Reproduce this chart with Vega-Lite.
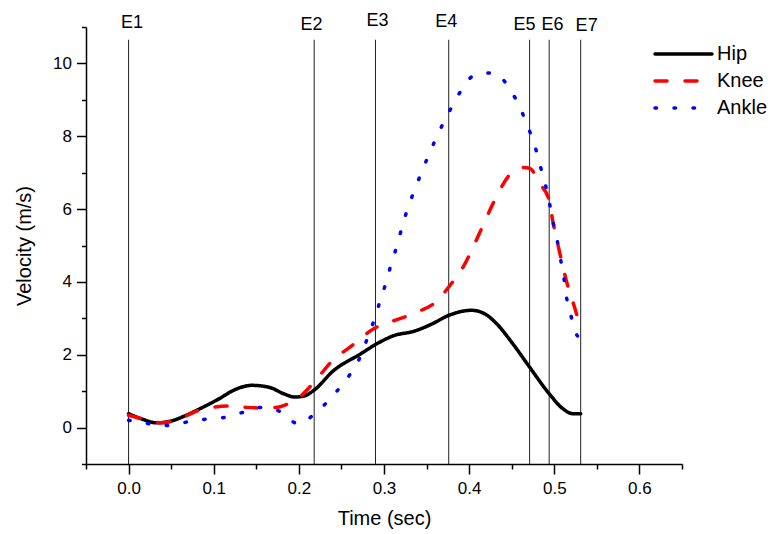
{
  "$schema": "https://vega.github.io/schema/vega-lite/v6.json",
  "width": 596,
  "height": 437,
  "autosize": {"type": "none"},
  "padding": {"left": 86, "top": 27, "right": 90, "bottom": 70},
  "background": "white",
  "config": {
    "view": {"stroke": null},
    "font": "Liberation Sans",
    "axis": {"grid": false, "domainColor": "black", "tickColor": "black", "labelColor": "black", "titleColor": "black", "domainWidth": 1.5, "tickWidth": 1.5, "labelFont": "Liberation Sans", "titleFont": "Liberation Sans", "titleFontWeight": "normal"}
  },
  "datasets": {
    "curves": [
      {"series": "Hip", "t": 0.000, "v": 0.38},
      {"series": "Hip", "t": 0.015, "v": 0.24},
      {"series": "Hip", "t": 0.033, "v": 0.13},
      {"series": "Hip", "t": 0.050, "v": 0.18},
      {"series": "Hip", "t": 0.067, "v": 0.33},
      {"series": "Hip", "t": 0.084, "v": 0.52},
      {"series": "Hip", "t": 0.107, "v": 0.80},
      {"series": "Hip", "t": 0.123, "v": 1.02},
      {"series": "Hip", "t": 0.145, "v": 1.16},
      {"series": "Hip", "t": 0.166, "v": 1.10},
      {"series": "Hip", "t": 0.182, "v": 0.93},
      {"series": "Hip", "t": 0.195, "v": 0.84},
      {"series": "Hip", "t": 0.205, "v": 0.86},
      {"series": "Hip", "t": 0.218, "v": 1.03},
      {"series": "Hip", "t": 0.240, "v": 1.55},
      {"series": "Hip", "t": 0.273, "v": 2.03},
      {"series": "Hip", "t": 0.290, "v": 2.28},
      {"series": "Hip", "t": 0.311, "v": 2.52},
      {"series": "Hip", "t": 0.336, "v": 2.65},
      {"series": "Hip", "t": 0.355, "v": 2.83},
      {"series": "Hip", "t": 0.376, "v": 3.08},
      {"series": "Hip", "t": 0.403, "v": 3.22},
      {"series": "Hip", "t": 0.420, "v": 3.10},
      {"series": "Hip", "t": 0.432, "v": 2.86},
      {"series": "Hip", "t": 0.451, "v": 2.31},
      {"series": "Hip", "t": 0.471, "v": 1.66},
      {"series": "Hip", "t": 0.494, "v": 0.93},
      {"series": "Hip", "t": 0.510, "v": 0.52},
      {"series": "Hip", "t": 0.522, "v": 0.38},
      {"series": "Hip", "t": 0.531, "v": 0.38},
      {"series": "Knee", "t": 0.000, "v": 0.34},
      {"series": "Knee", "t": 0.020, "v": 0.22},
      {"series": "Knee", "t": 0.039, "v": 0.13},
      {"series": "Knee", "t": 0.060, "v": 0.25},
      {"series": "Knee", "t": 0.082, "v": 0.47},
      {"series": "Knee", "t": 0.100, "v": 0.56},
      {"series": "Knee", "t": 0.117, "v": 0.59},
      {"series": "Knee", "t": 0.135, "v": 0.56},
      {"series": "Knee", "t": 0.154, "v": 0.54},
      {"series": "Knee", "t": 0.175, "v": 0.56},
      {"series": "Knee", "t": 0.186, "v": 0.64},
      {"series": "Knee", "t": 0.199, "v": 0.80},
      {"series": "Knee", "t": 0.218, "v": 1.25},
      {"series": "Knee", "t": 0.240, "v": 1.85},
      {"series": "Knee", "t": 0.260, "v": 2.21},
      {"series": "Knee", "t": 0.290, "v": 2.74},
      {"series": "Knee", "t": 0.310, "v": 2.92},
      {"series": "Knee", "t": 0.334, "v": 3.13},
      {"series": "Knee", "t": 0.365, "v": 3.54},
      {"series": "Knee", "t": 0.376, "v": 3.86},
      {"series": "Knee", "t": 0.393, "v": 4.41},
      {"series": "Knee", "t": 0.412, "v": 5.33},
      {"series": "Knee", "t": 0.428, "v": 6.15},
      {"series": "Knee", "t": 0.434, "v": 6.43},
      {"series": "Knee", "t": 0.449, "v": 6.98},
      {"series": "Knee", "t": 0.463, "v": 7.14},
      {"series": "Knee", "t": 0.471, "v": 7.12},
      {"series": "Knee", "t": 0.483, "v": 6.70},
      {"series": "Knee", "t": 0.494, "v": 6.24},
      {"series": "Knee", "t": 0.498, "v": 5.70},
      {"series": "Knee", "t": 0.504, "v": 5.05},
      {"series": "Knee", "t": 0.514, "v": 4.05},
      {"series": "Knee", "t": 0.526, "v": 3.13},
      {"series": "Knee", "t": 0.531, "v": 2.70},
      {"series": "Ankle", "t": 0.000, "v": 0.20},
      {"series": "Ankle", "t": 0.023, "v": 0.11},
      {"series": "Ankle", "t": 0.045, "v": 0.06},
      {"series": "Ankle", "t": 0.068, "v": 0.15},
      {"series": "Ankle", "t": 0.090, "v": 0.23},
      {"series": "Ankle", "t": 0.111, "v": 0.27},
      {"series": "Ankle", "t": 0.133, "v": 0.41},
      {"series": "Ankle", "t": 0.155, "v": 0.55},
      {"series": "Ankle", "t": 0.177, "v": 0.45},
      {"series": "Ankle", "t": 0.199, "v": 0.11},
      {"series": "Ankle", "t": 0.221, "v": 0.43},
      {"series": "Ankle", "t": 0.242, "v": 0.93},
      {"series": "Ankle", "t": 0.260, "v": 1.46},
      {"series": "Ankle", "t": 0.273, "v": 1.99},
      {"series": "Ankle", "t": 0.281, "v": 2.49},
      {"series": "Ankle", "t": 0.289, "v": 2.99},
      {"series": "Ankle", "t": 0.296, "v": 3.52},
      {"series": "Ankle", "t": 0.303, "v": 4.03},
      {"series": "Ankle", "t": 0.309, "v": 4.54},
      {"series": "Ankle", "t": 0.316, "v": 5.05},
      {"series": "Ankle", "t": 0.322, "v": 5.58},
      {"series": "Ankle", "t": 0.329, "v": 6.09},
      {"series": "Ankle", "t": 0.337, "v": 6.59},
      {"series": "Ankle", "t": 0.346, "v": 7.12},
      {"series": "Ankle", "t": 0.355, "v": 7.62},
      {"series": "Ankle", "t": 0.365, "v": 8.14},
      {"series": "Ankle", "t": 0.376, "v": 8.65},
      {"series": "Ankle", "t": 0.388, "v": 9.16},
      {"series": "Ankle", "t": 0.406, "v": 9.67},
      {"series": "Ankle", "t": 0.428, "v": 9.74},
      {"series": "Ankle", "t": 0.448, "v": 9.29},
      {"series": "Ankle", "t": 0.460, "v": 8.77},
      {"series": "Ankle", "t": 0.469, "v": 8.26},
      {"series": "Ankle", "t": 0.477, "v": 7.75},
      {"series": "Ankle", "t": 0.483, "v": 7.23},
      {"series": "Ankle", "t": 0.489, "v": 6.72},
      {"series": "Ankle", "t": 0.494, "v": 6.21},
      {"series": "Ankle", "t": 0.498, "v": 5.70},
      {"series": "Ankle", "t": 0.503, "v": 5.19},
      {"series": "Ankle", "t": 0.507, "v": 4.67},
      {"series": "Ankle", "t": 0.511, "v": 4.16},
      {"series": "Ankle", "t": 0.514, "v": 3.63},
      {"series": "Ankle", "t": 0.519, "v": 3.13},
      {"series": "Ankle", "t": 0.525, "v": 2.61},
      {"series": "Ankle", "t": 0.530, "v": 2.45}
    ],
    "events": [
      {"event": "E1", "t": 0.000, "labelT": 0.004, "labelV": 10.97},
      {"event": "E2", "t": 0.218, "labelT": 0.215, "labelV": 10.93},
      {"event": "E3", "t": 0.290, "labelT": 0.2925, "labelV": 11.02},
      {"event": "E4", "t": 0.376, "labelT": 0.373, "labelV": 11.0},
      {"event": "E5", "t": 0.471, "labelT": 0.465, "labelV": 10.93},
      {"event": "E6", "t": 0.494, "labelT": 0.498, "labelV": 10.93},
      {"event": "E7", "t": 0.531, "labelT": 0.538, "labelV": 10.9}
    ]
  },
  "resolve": {"axis": {"x": "independent", "y": "independent"}},
  "layer": [
    {
      "data": {"name": "events"},
      "mark": {"type": "rule", "color": "#222", "strokeWidth": 1},
      "encoding": {
        "x": {"field": "t", "type": "quantitative", "scale": {"domain": [-0.05, 0.65], "nice": false, "zero": false},
              "axis": {"orient": "bottom", "values": [-0.05, 0.05, 0.15, 0.25, 0.35, 0.45, 0.55, 0.65], "tickSize": 5, "labels": false, "domain": false, "title": null}},
        "y": {"datum": -1, "type": "quantitative", "scale": {"domain": [-1, 11], "nice": false, "zero": false},
              "axis": {"orient": "left", "values": [-1, 1, 3, 5, 7, 9, 11], "tickSize": 4.5, "labels": false, "domain": false, "title": null}},
        "y2": {"datum": 10.65}
      }
    },
    {
      "data": {"name": "events"},
      "mark": {"type": "text", "fontSize": 18, "baseline": "alphabetic", "align": "center", "color": "black"},
      "encoding": {
        "x": {"field": "labelT", "type": "quantitative", "axis": null},
        "y": {"field": "labelV", "type": "quantitative", "axis": null},
        "text": {"field": "event"}
      }
    },
    {
      "data": {"name": "curves"},
      "mark": {"type": "line", "strokeWidth": 3.5, "interpolate": "monotone", "strokeCap": "round"},
      "encoding": {
        "x": {"field": "t", "type": "quantitative",
              "axis": {"orient": "bottom", "values": [0, 0.1, 0.2, 0.3, 0.4, 0.5, 0.6], "format": ".1f", "tickSize": 10, "labelFontSize": 17, "labelPadding": 6, "title": "Time (sec)", "titleFontSize": 20, "titlePadding": 12}},
        "y": {"field": "v", "type": "quantitative",
              "axis": {"orient": "left", "values": [0, 2, 4, 6, 8, 10], "tickSize": 9.5, "labelFontSize": 17, "labelPadding": 5, "title": "Velocity (m/s)", "titleFontSize": 20, "titlePadding": 18}},
        "color": {"field": "series", "type": "nominal", "sort": ["Hip", "Knee", "Ankle"],
                  "scale": {"domain": ["Hip", "Knee", "Ankle"], "range": ["#000000", "#ff0000", "#0000ff"]},
                  "legend": {"title": null, "orient": "none", "legendX": 567, "legendY": 17, "padding": 0, "symbolType": "stroke", "symbolSize": 3249, "symbolStrokeWidth": 3.5, "labelFontSize": 20, "labelFont": "Liberation Sans", "labelColor": "black", "labelOffset": 3, "clipHeight": 20, "rowPadding": 7,
                             "encode": {"symbols": {"update": {"strokeCap": {"value": "round"}}}}}},
        "strokeDash": {"field": "series", "type": "nominal", "sort": ["Hip", "Knee", "Ankle"],
                       "scale": {"domain": ["Hip", "Knee", "Ankle"], "range": [[1, 0], [12, 18], [1.5, 17.5]]},
                       "legend": {"title": null, "orient": "none", "legendX": 567, "legendY": 17, "padding": 0, "symbolType": "stroke", "symbolSize": 3249, "symbolStrokeWidth": 3.5, "labelFontSize": 20, "labelFont": "Liberation Sans", "labelColor": "black", "labelOffset": 3, "clipHeight": 20, "rowPadding": 7,
                             "encode": {"symbols": {"update": {"strokeCap": {"value": "round"}}}}}}
      }
    }
  ]
}
